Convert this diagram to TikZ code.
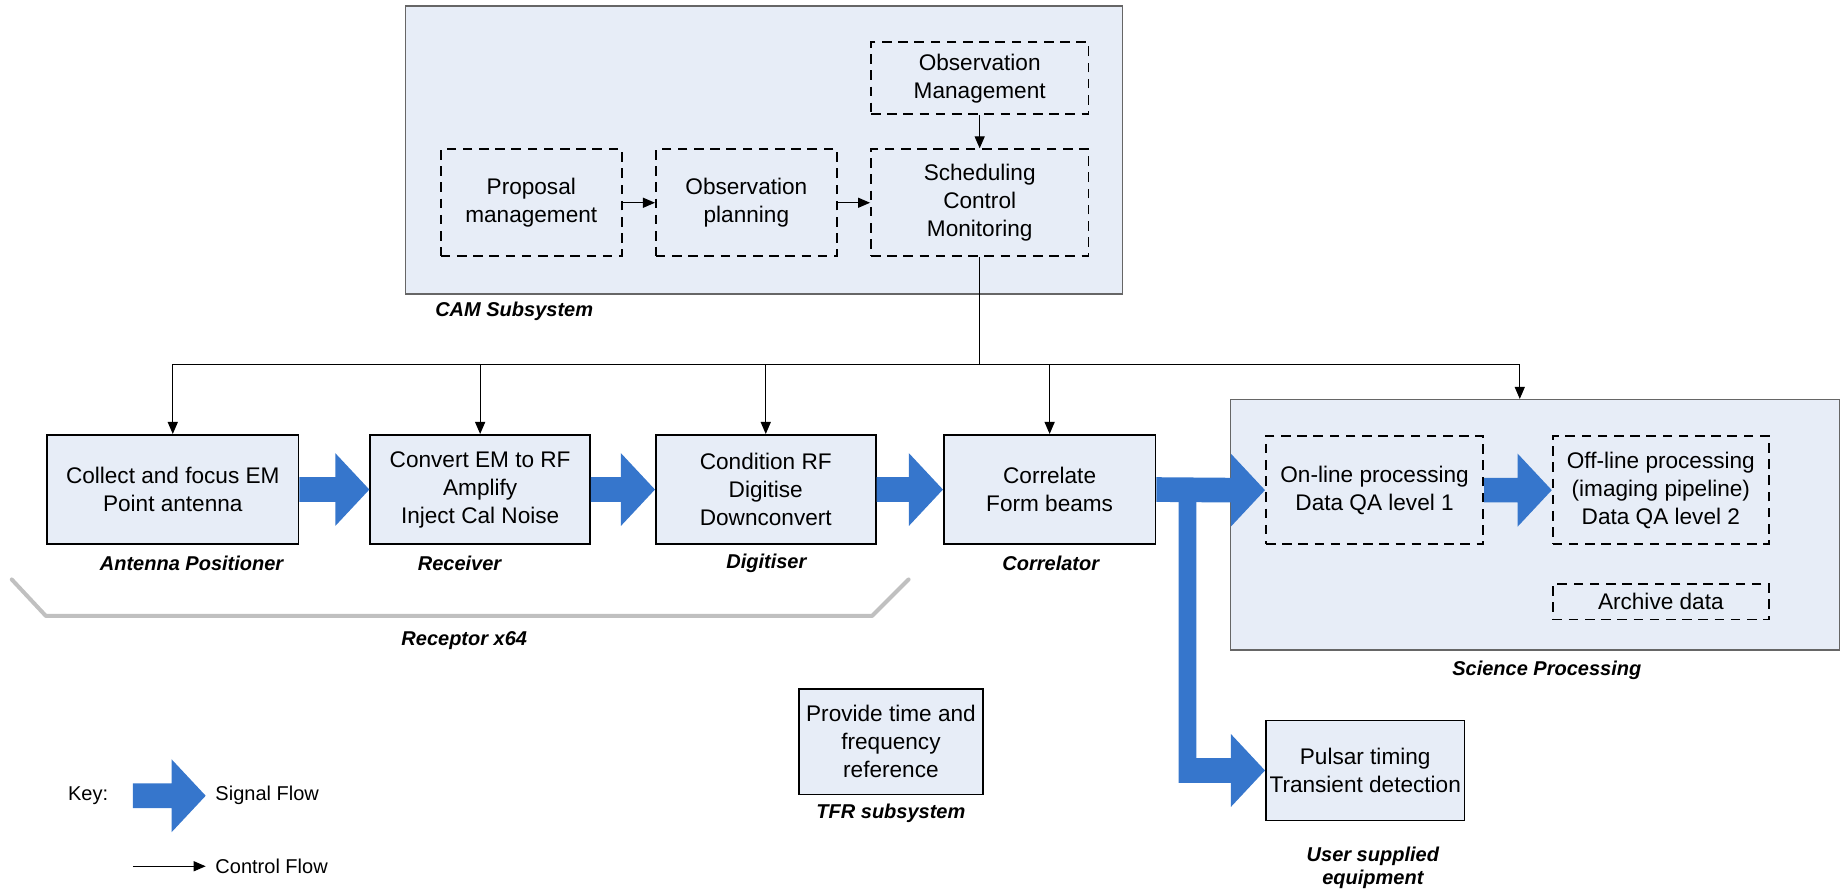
\documentclass[tikz,border=0pt]{standalone}
\usepackage{fontspec}
\setmainfont{Liberation Sans}
\usetikzlibrary{arrows.meta,calc}
\definecolor{boxfill}{RGB}{231,237,247}
\definecolor{flowblue}{RGB}{54,118,204}
\definecolor{bracegray}{RGB}{192,192,192}
% thick blue signal-flow arrow from point #1 to point #2
\newcommand{\sigflow}[2]{%
  \fill[sig] ($#1+(0,-10.5)$) -- ($#2+(-29,-10.5)$) -- ($#2+(-29,-31)$) -- #2
    -- ($#2+(-29,31)$) -- ($#2+(-29,10.5)$) -- ($#1+(0,10.5)$) -- cycle;}
\begin{document}
\begin{tikzpicture}[x=0.58769pt,y=-0.58769pt,
  size/.style 2 args={minimum width={#1*0.58769pt},minimum height={#2*0.58769pt}},
  body/.style={font=\fontsize{11.3}{14}\selectfont, align=center},
  unit/.style={body, draw=black, line width=0.9pt, fill=boxfill, inner sep=0pt},
  soft/.style={body, draw=black, line width=0.9pt, dash pattern=on 4.8pt off 3.3pt, fill=boxfill, inner sep=0pt},
  group/.style={draw=black!60, line width=0.7pt, fill=boxfill, inner sep=0pt},
  caption/.style={font=\fontsize{10}{11.5}\selectfont\bfseries\itshape, align=center, inner sep=0pt},
  keytext/.style={font=\fontsize{10}{12}\selectfont, inner sep=0pt},
  ctl/.style={line width=0.6pt, draw=black},
  ctlarrow/.style={ctl, -{Triangle[length=6pt,width=5pt]}},
  sig/.style={fill=flowblue},
  receptor/.style={draw=bracegray, line width=2pt, line cap=round, line join=round},
]
\useasboundingbox (0,0) rectangle (1568,757);

% CAM subsystem
\node[group, size={610}{245}] (cam) at (650,127.5) {};
\node[caption, anchor=west] (camlbl) at (370,265) {CAM Subsystem};
\node[soft, size={185}{61}] (obsmgmt) at (833.5,66.5) {Observation\\Management};
\node[soft, size={154}{91}] (proposal) at (452,172.5) {Proposal\\management};
\node[soft, size={154}{91}] (planning) at (635,172.5) {Observation\\planning};
\node[soft, size={185}{91}] (sched) at (833.5,172.5) {Scheduling\\Control\\Monitoring};

% receptor chain
\node[unit, size={214}{93}] (antenna) at (147,416.5) {Collect and focus EM\\Point antenna};
\node[unit, size={187}{93}] (receiver) at (408.5,416.5) {Convert EM to RF\\Amplify\\Inject Cal Noise};
\node[unit, size={187}{93}] (digitiser) at (651.5,416.5) {Condition RF\\Digitise\\Downconvert};
\node[unit, size={180}{93}] (correlator) at (893,416.5) {Correlate\\Form beams};

% science processing
\node[group, size={518}{213}] (science) at (1306,446.5) {};
\node[soft, size={185}{92}] (online) at (1169.5,417) {On-line processing\\Data QA level 1};
\node[soft, size={184}{92}] (offline) at (1413,417) {Off-line processing\\(imaging pipeline)\\Data QA level 2};
\node[soft, size={184}{30}] (archive) at (1413,512) {Archive data};

% other equipment
\node[unit, size={156}{90}] (tfr) at (758,631) {Provide time and\\frequency\\reference};
\node[unit, size={169}{85}] (pulsar) at (1161.5,655.5) {Pulsar timing\\Transient detection};

% captions
\node[caption] (antlbl) at (163,479) {Antenna Positioner};
\node[caption] (rcvlbl) at (391,479) {Receiver};
\node[caption] (diglbl) at (652,479) {Digitiser};
\node[caption] (corlbl) at (894,479) {Correlator};
\node[caption] (receptorlbl) at (395,545) {Receptor x64};
\node[caption] (scilbl) at (1316,570) {Science Processing};
\node[caption] (tfrlbl) at (758,692) {TFR subsystem};
\node[caption] (userlbl) at (1168,738) {User supplied\\equipment};

% receptor grouping bracket
\draw[receptor] (10,493) -- (39,524) -- (742,524) -- (773,493);

% control flow inside CAM
\draw[ctlarrow] (proposal.east) -- (planning.west);
\draw[ctlarrow] (planning.east) -- (sched.west);
\draw[ctlarrow] (obsmgmt.south) -- (sched.north);

% control bus
\coordinate (bus) at (834,310);
\coordinate (sciin) at ($(science.north)+(-13,0)$);
\draw[ctl, line width=0.8pt] (sched.south) -- (sched.south |- bus);
\draw[ctl] (antenna.north |- bus) -- (sciin |- bus);
\foreach \n in {antenna,receiver,digitiser,correlator}
  \draw[ctlarrow] (\n.north |- bus) -- (\n.north);
\draw[ctlarrow] (sciin |- bus) -- (sciin);

% signal flow
\sigflow{(antenna.east)}{(receiver.west)}
\sigflow{(receiver.east)}{(digitiser.west)}
\sigflow{(digitiser.east)}{(correlator.west)}
\sigflow{(correlator.east)}{(online.west)}
\sigflow{(online.east)}{(offline.west)}
\coordinate (tap) at ($(correlator.east)+(19,0)$);
\fill[sig] ($(tap)+(0,8)$) -- ($(tap |- pulsar.west)+(0,10.5)$)
  -- ($(pulsar.west)+(-29,10.5)$) -- ($(pulsar.west)+(-29,31)$) -- (pulsar.west)
  -- ($(pulsar.west)+(-29,-31)$) -- ($(pulsar.west)+(-29,-10.5)$)
  -- ($(tap |- pulsar.west)+(15,-10.5)$) -- ($(tap)+(15,8)$) -- cycle;

% key
\node[keytext] (keylbl) at (75,677) {Key:};
\coordinate (keyA) at (113,677);
\coordinate (keyB) at (175,677);
\sigflow{(keyA)}{(keyB)}
\node[keytext, anchor=west] (sigkey) at (183,677) {Signal Flow};
\coordinate (ctlA) at (113,737);
\coordinate (ctlB) at (175,737);
\draw[ctlarrow] (ctlA) -- (ctlB);
\node[keytext, anchor=west] (ctlkey) at (183,737) {Control Flow};
\end{tikzpicture}
\end{document}
